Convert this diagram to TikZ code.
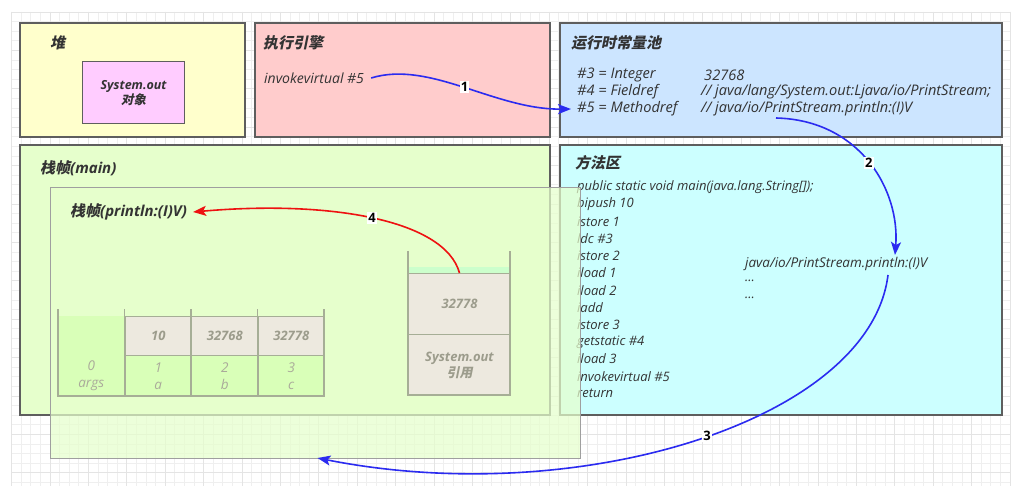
\documentclass[tikz,border=0pt]{standalone}
\usepackage{fontspec}
\setmainfont{Open Sans}
\newfontfamily\cjk{Noto Sans CJK SC}[FakeSlant=0.2]
\usetikzlibrary{arrows.meta,calc}
\definecolor{heapc}{HTML}{FFFFCC}
\definecolor{execc}{HTML}{FFCCCC}
\definecolor{poolc}{HTML}{CCE5FF}
\definecolor{mainc}{HTML}{E6FFCC}
\definecolor{methc}{HTML}{CCFFFF}
\definecolor{objc}{HTML}{FFCCFF}
\definecolor{beige}{HTML}{EDE9DF}
\definecolor{lvg}{HTML}{D9FFB8}
\definecolor{strip}{HTML}{CCFFCC}
\definecolor{cline}{HTML}{A6AE96}
\definecolor{ctxt}{HTML}{9C9C8C}
\definecolor{ltxt}{HTML}{AAAA9A}
\definecolor{bord}{HTML}{5E5E5E}
\definecolor{txt}{HTML}{333333}
\definecolor{gridc}{HTML}{EFEFEF}
\definecolor{gridm}{HTML}{E4E4E4}
\definecolor{flowb}{HTML}{2B2BF0}
\definecolor{flowr}{HTML}{EE1111}
\begin{document}
\begin{tikzpicture}[x=1pt,y=-1pt,
  region/.style={draw=bord, line width=1.2pt, anchor=north west, inner sep=0pt, outer sep=0pt},
  title/.style={anchor=west, inner sep=0pt, text=txt, font=\fontsize{15}{18}\selectfont\bfseries\itshape},
  code/.style={anchor=west, inner sep=0pt, text=txt, font=\fontsize{14}{16}\selectfont\itshape},
  pooltxt/.style={code, font=\fontsize{14.6}{17}\selectfont\itshape},
  methtxt/.style={code, font=\fontsize{13}{16}\selectfont\itshape},
  objtxt/.style={align=center, text=txt, font=\fontsize{12.5}{15}\selectfont\bfseries\itshape},
  cellb/.style={draw=cline, line width=1pt, fill=beige, anchor=north west, inner sep=0pt, align=center,
     text=ctxt, font=\fontsize{13}{16}\selectfont\bfseries\itshape},
  cellg/.style={draw=cline, line width=1pt, fill=lvg, anchor=north west, inner sep=0pt, align=center,
     text=ltxt, font=\fontsize{13.5}{17}\selectfont\itshape},
  wall/.style={draw=cline, line width=1.8pt},
  num/.style={fill=white, inner sep=1pt, text=black, font=\fontsize{13}{15}\selectfont\bfseries},
  flow/.style={line width=1.6pt, -{Stealth[length=13pt,width=10pt,inset=3pt]}}
]
\useasboundingbox (0,0) rectangle (1030,486);
\fill[white] (0,0) rectangle (1030,486);
% grid
\foreach \i in {0,...,104} \draw[gridc, line width=0.8pt] ({11.5+9.6*\i},12) -- ({11.5+9.6*\i},486);
\foreach \j in {0,...,49} \draw[gridc, line width=0.8pt] (11.5,{12+9.6*\j}) -- (1010,{12+9.6*\j});
\foreach \i in {0,4,...,104} \draw[gridm, line width=0.8pt] ({11.5+9.6*\i},12) -- ({11.5+9.6*\i},486);
\foreach \j in {0,4,...,48} \draw[gridm, line width=0.8pt] (11.5,{12+9.6*\j}) -- (1010,{12+9.6*\j});

% regions
\node[region, fill=heapc, minimum width=225, minimum height=114] (heap) at (20,23) {};
\node[region, fill=execc, minimum width=295, minimum height=114] (exec) at (255,23) {};
\node[region, fill=poolc, minimum width=442, minimum height=114] (pool) at (560,23) {};
\node[region, fill=mainc, minimum width=530, minimum height=270] (main) at (20,145) {};
\node[region, fill=methc, minimum width=442, minimum height=270] (meth) at (560,145) {};

% heap
\node[title] (theap) at (50,43) {\cjk 堆};
\node[draw=bord, line width=1.2pt, fill=objc, anchor=north west, minimum width=102, minimum height=62, inner sep=0pt] (obj) at (82,61) {};
\node[objtxt] (objt) at (obj.center) {System.out\\{\cjk 对象}};

% exec engine
\node[title] (texec) at (263,43) {\cjk 执行引擎};
\node[code] (inv) at (264,78) {invokevirtual \#5};

% constant pool
\node[title] (tpool) at (571,43) {\cjk 运行时常量池};
\node[pooltxt] (m3) at (577,75) {\#3 = Integer};
\node[pooltxt] (v3) at (704,75) {32768};
\node[pooltxt] (m4) at (577,92) {\#4 = Fieldref};
\node[pooltxt] (v4) at (701,92) {// java/lang/System.out:Ljava/io/PrintStream;};
\node[pooltxt] (m5) at (577,109) {\#5 = Methodref};
\node[pooltxt] (v5) at (701,109) {// java/io/PrintStream.println:(I)V};

% main frame
\node[title] (tmain) at (40,168) {{\cjk 栈帧}(main)};

% method area
\node[title] (tmeth) at (575,163) {\cjk 方法区};
\foreach \t [count=\k from 0] in {public static void main(java.lang.String[]);, bipush 10, istore 1, ldc \#3, istore 2, iload 1, iload 2, iadd, istore 3, getstatic \#4, iload 3, invokevirtual \#5, return}
  \node[methtxt] (c\k) at (577,{187+17.2*\k}) {\t};
\node[code, font=\fontsize{13.5}{16}\selectfont\itshape] (tgt) at (745,264) {java/io/PrintStream.println:(I)V};
\node[methtxt] (d1) at (745,281) {...};
\node[methtxt] (d2) at (745,298) {...};

% println frame (translucent)
\node[draw=gray!75, line width=1pt, fill=mainc, fill opacity=0.72, anchor=north west, minimum width=530, minimum height=271, inner sep=0pt] (inner) at (50,187) {};
\node[title] (tpr) at (70,212) {{\cjk 栈帧}(println:(I)V)};

% local variable table
\node[cellg, minimum width=66.5, minimum height=81, draw=none] (lv0) at (58,315) {};
\node[text=ltxt, font=\fontsize{13.5}{17}\selectfont\itshape, align=center] at (91.25,375.5) {0\\args};
\node[cellb, minimum width=66.5, minimum height=39] (t1) at (124.5,316) {10};
\node[cellb, minimum width=66.5, minimum height=39] (t2) at (191,316) {32768};
\node[cellb, minimum width=66.5, minimum height=39] (t3) at (257.5,316) {32778};
\node[cellg, minimum width=66.5, minimum height=41] (b1) at (124.5,355) {1\\a};
\node[cellg, minimum width=66.5, minimum height=41] (b2) at (191,355) {2\\b};
\node[cellg, minimum width=66.5, minimum height=41] (b3) at (257.5,355) {3\\c};
\draw[wall] (58,309) -- (58,396) -- (324,396) -- (324,309);
\foreach \x in {124.5,191,257.5} \draw[wall] (\x,309) -- (\x,396);

% operand stack
\fill[strip] (408,267) rectangle (510,273);
\node[cellb, minimum width=102, minimum height=61] (stop) at (408,273) {32778};
\node[cellb, minimum width=102, minimum height=61] (sbot) at (408,334) {System.out\\{\cjk 引用}};
\draw[wall] (408,251) -- (408,395) -- (510,395) -- (510,251);

% connectors
\coordinate (a2s) at (776,118);
\coordinate (a2e) at (895,255);
\coordinate (a3s) at (888,275);
\draw[flow, flowb] ([xshift=7pt]inv.east) .. controls (430,60) and (495,110) .. ([xshift=-6pt]m5.west)
  node[num, pos=0.5] {1};
\draw[flow, flowb] (a2s) .. controls (860,120) and (900,190) .. (a2e)
  node[num, pos=0.5] {2};
\draw[flow, flowb] (a3s) .. controls (870,420) and (580,510) .. ([xshift=2pt,yshift=1pt]inner.south)
  node[num, pos=0.48] {3};
\draw[flow, flowr] (stop.north) .. controls (445,220) and (330,200) .. ([xshift=6pt]tpr.east)
  node[num, pos=0.5] {4};
\end{tikzpicture}
\end{document}
